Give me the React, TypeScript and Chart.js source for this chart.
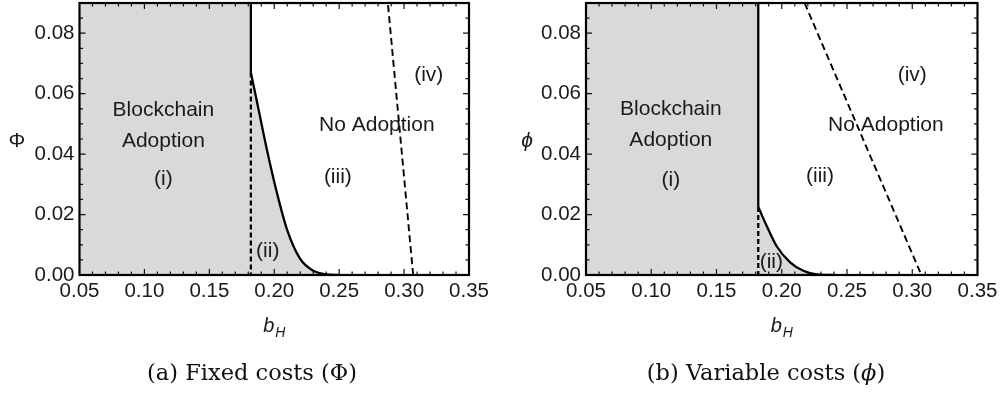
import React, { useEffect, useRef } from 'react';
import { Chart, registerables } from 'chart.js';
Chart.register(...registerables);

// ---------- shared axes ----------
const xTicks = [0.05, 0.1, 0.15, 0.2, 0.25, 0.3, 0.35];
const yTicks = [0, 0.02, 0.04, 0.06, 0.08];
const xRange = [0.05, 0.35];
const yRange = [0, 0.09];
const xMinorStep = 0.01;
const yMinorStep = 0.005;

// ---------- panel (a): fixed costs ----------
const fixedBoundaryX = 0.182;
const fixedCurveX = [0.182, 0.188, 0.1944, 0.202, 0.2098, 0.22, 0.23, 0.24, 0.25];
const fixedCurveY = [0.067, 0.0546, 0.0414, 0.0273, 0.0151, 0.0053, 0.0014, 0.0002, 0];
const fixedDashX = [0.307, 0.2875];
const fixedDashY = [0, 0.09];
const fixedLabels = ['Blockchain', 'Adoption', '(i)', '(ii)', '(iii)', 'No Adoption', '(iv)'];
const fixedLabelX = [0.1146, 0.1146, 0.1146, 0.195, 0.249, 0.279, 0.319];
const fixedLabelY = [0.0546, 0.0443, 0.0316, 0.008, 0.0322, 0.0497, 0.066];

// ---------- panel (b): variable costs ----------
const varBoundaryX = 0.182;
const varCurveX = [0.182, 0.1885, 0.196, 0.2064, 0.2166, 0.227, 0.24];
const varCurveY = [0.0225, 0.0162, 0.0096, 0.0042, 0.0014, 0.0002, 0];
const varDashX = [0.2175, 0.307];
const varDashY = [0.09, 0];
const varLabels = ['Blockchain', 'Adoption', '(i)', '(ii)', '(iii)', 'No Adoption', '(iv)'];
const varLabelX = [0.115, 0.115, 0.115, 0.192, 0.2293, 0.2798, 0.30];
const varLabelY = [0.0547, 0.0446, 0.0315, 0.0042, 0.0326, 0.0496, 0.066];

const GRAY = 'rgb(217,217,217)';
const SANS = '"Liberation Sans", Arial, sans-serif';
const SERIF = '"DejaVu Serif", serif';

type PanelCfg = {
  boundaryX: number;
  curveX: number[];
  curveY: number[];
  dashX: number[];
  dashY: number[];
  labels: string[];
  labelX: number[];
  labelY: number[];
  yTitle: string;
  yTitleItalic: boolean;
  yTitleX: number;
  captionParts: { t: string; italic: boolean }[];
  captionX: number;
  area: { left: number; right: number; top: number; bottom: number };
};

function pts(xs: number[], ys: number[]) {
  return xs.map((x, i) => ({ x, y: ys[i] }));
}

function buildConfig(c: PanelCfg): any {
  const W = 500;
  const H = 400;
  const kinkY = c.curveY[0];
  const framePlugin = {
    id: 'frame',
    afterDraw(chart: any) {
      const ctx = chart.ctx as CanvasRenderingContext2D;
      const a = chart.chartArea;
      const xs = chart.scales.x;
      const ys = chart.scales.y;
      ctx.save();
      // ticks
      ctx.strokeStyle = '#111';
      ctx.lineWidth = 1.2;
      const nx = Math.round((xRange[1] - xRange[0]) / xMinorStep);
      for (let i = 1; i < nx; i++) {
        const v = xRange[0] + i * xMinorStep;
        const major = xTicks.some((t) => Math.abs(t - v) < 1e-9);
        const len = major ? 6 : 3.5;
        const px = xs.getPixelForValue(v);
        ctx.beginPath();
        ctx.moveTo(px, a.bottom);
        ctx.lineTo(px, a.bottom - len);
        ctx.moveTo(px, a.top);
        ctx.lineTo(px, a.top + len);
        ctx.stroke();
      }
      const ny = Math.round((yRange[1] - yRange[0]) / yMinorStep);
      for (let i = 1; i < ny; i++) {
        const v = yRange[0] + i * yMinorStep;
        const major = yTicks.some((t) => Math.abs(t - v) < 1e-9);
        const len = major ? 6 : 3.5;
        const py = ys.getPixelForValue(v);
        ctx.beginPath();
        ctx.moveTo(a.left, py);
        ctx.lineTo(a.left + len, py);
        ctx.moveTo(a.right, py);
        ctx.lineTo(a.right - len, py);
        ctx.stroke();
      }
      // frame
      ctx.strokeStyle = '#000';
      ctx.lineWidth = 2.2;
      ctx.strokeRect(a.left, a.top, a.right - a.left, a.bottom - a.top);

      // region labels
      ctx.fillStyle = '#1a1a1a';
      ctx.font = `21px ${SANS}`;
      ctx.textAlign = 'center';
      ctx.textBaseline = 'middle';
      c.labels.forEach((t, i) => {
        ctx.fillText(t, xs.getPixelForValue(c.labelX[i]), ys.getPixelForValue(c.labelY[i]));
      });

      // y title
      ctx.font = `${c.yTitleItalic ? 'italic ' : ''}21px ${SANS}`;
      ctx.fillText(c.yTitle, c.yTitleX, (a.top + a.bottom) / 2 + 2);

      // x title b_H
      const cx = (a.left + a.right) / 2;
      ctx.textBaseline = 'alphabetic';
      ctx.textAlign = 'left';
      ctx.font = `italic 20px ${SANS}`;
      const bw = ctx.measureText('b').width;
      ctx.font = `italic 14px ${SANS}`;
      const hw = ctx.measureText('H').width;
      const start = cx - (bw + hw + 1) / 2;
      ctx.font = `italic 20px ${SANS}`;
      ctx.fillText('b', start, 332);
      ctx.font = `italic 14px ${SANS}`;
      ctx.fillText('H', start + bw + 1, 337);

      // caption
      ctx.fillStyle = '#111';
      const capFont = (it: boolean) => `${it ? 'italic ' : ''}22.5px ${SERIF}`;
      let total = 0;
      c.captionParts.forEach((p) => {
        ctx.font = capFont(p.italic);
        total += ctx.measureText(p.t).width;
      });
      let x0 = c.captionX - total / 2;
      c.captionParts.forEach((p) => {
        ctx.font = capFont(p.italic);
        ctx.fillText(p.t, x0, 380);
        x0 += ctx.measureText(p.t).width;
      });
      ctx.restore();
    },
  };

  return {
    type: 'scatter',
    data: {
      datasets: [
        {
          data: [
            { x: xRange[0], y: yRange[1] },
            { x: c.boundaryX, y: yRange[1] },
          ],
          showLine: true,
          fill: 'origin',
          backgroundColor: GRAY,
          borderWidth: 0,
          pointRadius: 0,
        },
        {
          data: pts(c.curveX, c.curveY),
          showLine: true,
          fill: 'origin',
          backgroundColor: GRAY,
          borderColor: '#000',
          borderWidth: 2.3,
          pointRadius: 0,
          cubicInterpolationMode: 'monotone',
        },
        {
          data: [
            { x: c.boundaryX, y: yRange[1] },
            { x: c.boundaryX, y: kinkY },
          ],
          showLine: true,
          fill: false,
          borderColor: '#000',
          borderWidth: 2.3,
          pointRadius: 0,
        },
        {
          data: [
            { x: c.boundaryX, y: kinkY },
            { x: c.boundaryX, y: 0 },
          ],
          showLine: true,
          fill: false,
          borderColor: '#000',
          borderWidth: 2.3,
          borderDash: [5, 3],
          pointRadius: 0,
        },
        {
          data: pts(c.dashX, c.dashY),
          showLine: true,
          fill: false,
          borderColor: '#000',
          borderWidth: 1.9,
          borderDash: [7, 4],
          pointRadius: 0,
        },
      ],
    },
    options: {
      animation: false,
      responsive: false,
      events: [],
      layout: {
        padding: { left: 0, top: c.area.top, right: W - c.area.right, bottom: 0 },
      },
      plugins: {
        legend: { display: false },
        tooltip: { enabled: false },
        filler: { drawTime: 'beforeDatasetsDraw' },
      },
      scales: {
        x: {
          type: 'linear',
          min: xRange[0],
          max: xRange[1],
          grid: { display: false, drawTicks: false },
          border: { display: false },
          afterBuildTicks: (s: any) => {
            s.ticks = xTicks.map((v) => ({ value: v }));
          },
          afterFit: (s: any) => {
            s.height = H - c.area.bottom;
            s.paddingLeft = 0;
            s.paddingRight = 0;
          },
          ticks: {
            autoSkip: false,
            maxRotation: 0,
            padding: 4,
            color: '#1a1a1a',
            font: { family: SANS, size: 20.5 },
            callback: (v: any) => Number(v).toFixed(2),
          },
        },
        y: {
          type: 'linear',
          min: yRange[0],
          max: yRange[1],
          grid: { display: false, drawTicks: false },
          border: { display: false },
          afterBuildTicks: (s: any) => {
            s.ticks = yTicks.map((v) => ({ value: v }));
          },
          afterFit: (s: any) => {
            s.width = c.area.left;
            s.paddingTop = 0;
            s.paddingBottom = 0;
          },
          ticks: {
            autoSkip: false,
            padding: 5,
            color: '#1a1a1a',
            font: { family: SANS, size: 20.5 },
            callback: (v: any) => Number(v).toFixed(2),
          },
        },
      },
    },
    plugins: [framePlugin],
  };
}

const panelA: PanelCfg = {
  boundaryX: fixedBoundaryX,
  curveX: fixedCurveX,
  curveY: fixedCurveY,
  dashX: fixedDashX,
  dashY: fixedDashY,
  labels: fixedLabels,
  labelX: fixedLabelX,
  labelY: fixedLabelY,
  yTitle: 'Φ',
  yTitleItalic: false,
  yTitleX: 17,
  captionParts: [{ t: '(a) Fixed costs (Φ)', italic: false }],
  captionX: 252,
  area: { left: 79.5, right: 469, top: 3, bottom: 275 },
};

const panelB: PanelCfg = {
  boundaryX: varBoundaryX,
  curveX: varCurveX,
  curveY: varCurveY,
  dashX: varDashX,
  dashY: varDashY,
  labels: varLabels,
  labelX: varLabelX,
  labelY: varLabelY,
  yTitle: 'ϕ',
  yTitleItalic: true,
  yTitleX: 27,
  captionParts: [
    { t: '(b) Variable costs (', italic: false },
    { t: 'ϕ', italic: true },
    { t: ')', italic: false },
  ],
  captionX: 266,
  area: { left: 86, right: 477.5, top: 3, bottom: 275 },
};

function Panel({ cfg, left }: { cfg: PanelCfg; left: number }) {
  const ref = useRef<HTMLCanvasElement>(null);
  useEffect(() => {
    const chart = new Chart(ref.current as HTMLCanvasElement, buildConfig(cfg));
    return () => chart.destroy();
  }, [cfg]);
  return (
    <canvas
      ref={ref}
      width={500}
      height={400}
      style={{ position: 'absolute', left, top: 0, width: 500, height: 400 }}
    />
  );
}

export default function App() {
  return (
    <div style={{ position: 'absolute', left: 0, top: 0, width: 1000, height: 400, background: '#fff' }}>
      <Panel cfg={panelA} left={0} />
      <Panel cfg={panelB} left={500} />
    </div>
  );
}
